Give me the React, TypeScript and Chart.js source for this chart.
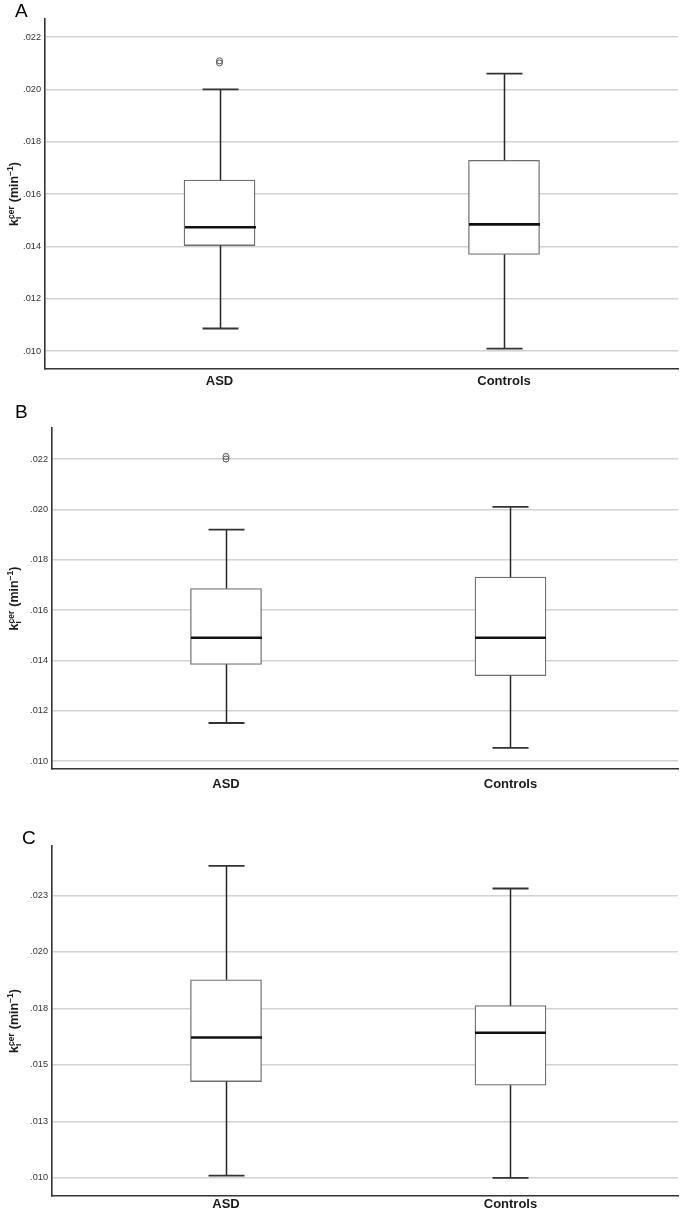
import React, { useEffect, useRef } from 'react';
import { Chart, registerables } from 'chart.js';

Chart.register(...registerables);

// ---------- DATA ----------
const categories = ['ASD', 'Controls'];

// Panel A
const aLow = [0.01086, 0.01009];
const aQ1 = [0.01403, 0.01369];
const aMedian = [0.01473, 0.01484];
const aQ3 = [0.01653, 0.01729];
const aHigh = [0.02, 0.0206];
const aOutliersASD = [0.02109, 0.02101];
const aOutliersControls: number[] = [];
const aTickValues = [0.01, 0.012, 0.014, 0.016, 0.018, 0.02, 0.022];
const aTickLabels = ['.010', '.012', '.014', '.016', '.018', '.020', '.022'];

// Panel B
const bLow = [0.01151, 0.01052];
const bQ1 = [0.01384, 0.01339];
const bMedian = [0.0149, 0.0149];
const bQ3 = [0.01685, 0.01731];
const bHigh = [0.01919, 0.0201];
const bOutliersASD = [0.0221, 0.022];
const bOutliersControls: number[] = [];
const bTickValues = [0.01, 0.012, 0.014, 0.016, 0.018, 0.02, 0.022];
const bTickLabels = ['.010', '.012', '.014', '.016', '.018', '.020', '.022'];

// Panel C
const cLow = [0.0101, 0.01];
const cQ1 = [0.01426, 0.0141];
const cMedian = [0.01621, 0.01642];
const cQ3 = [0.01876, 0.01762];
const cHigh = [0.0238, 0.0228];
const cOutliersASD: number[] = [];
const cOutliersControls: number[] = [];
const cTickValues = [0.01, 0.0125, 0.015, 0.0175, 0.02, 0.0225];
const cTickLabels = ['.010', '.013', '.015', '.018', '.020', '.023'];

// ---------- LAYOUT ----------
type PanelCfg = {
  letter: string;
  letterLeft: number;
  letterTop: number;
  top: number;
  height: number;
  padTop: number;
  xAxisH: number;
  axisLeft: number;
  xMin: number;
  xMax: number;
  yMin: number;
  yMax: number;
  labelPad: number;
  low: number[];
  q1: number[];
  median: number[];
  q3: number[];
  high: number[];
  outliers: number[][];
  tickValues: number[];
  tickLabels: string[];
};

const panels: PanelCfg[] = [
  {
    letter: 'A', letterLeft: 15, letterTop: 0.5,
    top: 0, height: 400, padTop: 19, xAxisH: 31, axisLeft: 45,
    xMin: 0.3866, xMax: 2.6116, yMin: 0.009312, yMax: 0.022688, labelPad: 5,
    low: aLow, q1: aQ1, median: aMedian, q3: aQ3, high: aHigh,
    outliers: [aOutliersASD, aOutliersControls],
    tickValues: aTickValues, tickLabels: aTickLabels,
  },
  {
    letter: 'B', letterLeft: 15, letterTop: 401.5,
    top: 400, height: 410, padTop: 28, xAxisH: 41, axisLeft: 52,
    xMin: 0.3884, xMax: 2.5888, yMin: 0.009682, yMax: 0.023232, labelPad: 8,
    low: bLow, q1: bQ1, median: bMedian, q3: bQ3, high: bHigh,
    outliers: [bOutliersASD, bOutliersControls],
    tickValues: bTickValues, tickLabels: bTickLabels,
  },
  {
    letter: 'C', letterLeft: 22, letterTop: 827.5,
    top: 810, height: 404, padTop: 36, xAxisH: 18, axisLeft: 52,
    xMin: 0.3884, xMax: 2.5888, yMin: 0.0092, yMax: 0.02468, labelPad: 1,
    low: cLow, q1: cQ1, median: cMedian, q3: cQ3, high: cHigh,
    outliers: [cOutliersASD, cOutliersControls],
    tickValues: cTickValues, tickLabels: cTickLabels,
  },
];

const FONT = '"Liberation Sans", Arial, Helvetica, sans-serif';
const WIDTH = 685;

function makeWhiskerPlugin(p: PanelCfg) {
  return {
    id: 'whiskers',
    afterDatasetsDraw(chart: any) {
      const { ctx } = chart;
      const xs = chart.scales.x;
      const ys = chart.scales.y;
      const capHalf = 18;
      const boxHalf = 35.5;
      ctx.save();
      categories.forEach((_, i) => {
        const cx = Math.round(xs.getPixelForValue(i + 1)) + 0.5;
        const yLow = ys.getPixelForValue(p.low[i]);
        const yQ1 = ys.getPixelForValue(p.q1[i]);
        const yMed = ys.getPixelForValue(p.median[i]);
        const yQ3 = ys.getPixelForValue(p.q3[i]);
        const yHigh = ys.getPixelForValue(p.high[i]);
        ctx.strokeStyle = '#262626';
        ctx.lineWidth = 1.5;
        ctx.beginPath();
        ctx.moveTo(cx, yQ3);
        ctx.lineTo(cx, yHigh);
        ctx.moveTo(cx, yQ1);
        ctx.lineTo(cx, yLow);
        ctx.stroke();
        ctx.strokeStyle = '#333333';
        ctx.lineWidth = 1.8;
        ctx.beginPath();
        ctx.moveTo(cx - capHalf, yHigh);
        ctx.lineTo(cx + capHalf, yHigh);
        ctx.moveTo(cx - capHalf, yLow);
        ctx.lineTo(cx + capHalf, yLow);
        ctx.stroke();
        ctx.strokeStyle = '#111111';
        ctx.lineWidth = 2.6;
        ctx.beginPath();
        ctx.moveTo(cx - boxHalf, yMed);
        ctx.lineTo(cx + boxHalf, yMed);
        ctx.stroke();
      });
      ctx.restore();
    },
  };
}

const yTitlePlugin = {
  id: 'ytitle',
  afterDraw(chart: any) {
    const { ctx, chartArea } = chart;
    const cy = (chartArea.top + chartArea.bottom) / 2;
    const bx = 18;
    const big = `bold 12.5px ${FONT}`;
    const small = `bold 8.5px ${FONT}`;
    ctx.save();
    ctx.fillStyle = '#1a1a1a';
    ctx.textBaseline = 'alphabetic';
    ctx.textAlign = 'left';
    ctx.font = big;
    const wK = ctx.measureText('k').width;
    const wMid = ctx.measureText(' (min').width;
    const wEnd = ctx.measureText(')').width;
    ctx.font = small;
    const wSub = ctx.measureText('i').width;
    const wSup = ctx.measureText('cer').width;
    const wExp = ctx.measureText('\u22121').width;
    const total = wK + Math.max(wSub, wSup) + 0.5 + wMid + wExp + wEnd;
    ctx.translate(bx, cy);
    ctx.rotate(-Math.PI / 2);
    let x = -total / 2;
    ctx.font = big;
    ctx.fillText('k', x, 0);
    x += wK;
    ctx.font = small;
    ctx.fillText('i', x, 3);
    ctx.fillText('cer', x, -4.5);
    x += Math.max(wSub, wSup) + 0.5;
    ctx.font = big;
    ctx.fillText(' (min', x, 0);
    x += wMid;
    ctx.font = small;
    ctx.fillText('\u22121', x, -5);
    x += wExp;
    ctx.font = big;
    ctx.fillText(')', x, 0);
    ctx.restore();
  },
};

function BoxPanel({ p }: { p: PanelCfg }) {
  const ref = useRef<HTMLCanvasElement | null>(null);
  useEffect(() => {
    if (!ref.current) return;
    const outlierPoints: { x: number; y: number }[] = [];
    p.outliers.forEach((list, i) => list.forEach((v) => outlierPoints.push({ x: i + 1, y: v })));
    const chart = new Chart(ref.current, {
      type: 'bar',
      data: {
        datasets: [
          {
            type: 'bar',
            data: categories.map((_, i) => ({ x: i + 1, y: [p.q1[i], p.q3[i]] })) as any,
            backgroundColor: '#ffffff',
            borderColor: '#6e6e6e',
            borderWidth: 1.3,
            borderSkipped: false,
            barThickness: 71,
          } as any,
          {
            type: 'scatter',
            data: outlierPoints as any,
            pointStyle: 'circle',
            pointRadius: 3,
            pointBackgroundColor: 'rgba(0,0,0,0)',
            pointBorderColor: '#555555',
            pointBorderWidth: 1,
          } as any,
        ],
      },
      options: {
        animation: false,
        responsive: false,
        devicePixelRatio: 1,
        layout: { padding: { top: p.padTop, right: WIDTH - 678, left: 0, bottom: 0 } },
        plugins: { legend: { display: false }, tooltip: { enabled: false } },
        scales: {
          x: {
            type: 'linear',
            offset: false,
            min: p.xMin,
            max: p.xMax,
            grid: { display: false, drawTicks: false, offset: false },
            border: { display: true, color: '#333333', width: 1.6 },
            afterBuildTicks: (scale: any) => {
              scale.ticks = categories.map((_, i) => ({ value: i + 1 }));
            },
            afterFit: (scale: any) => {
              scale.height = p.xAxisH;
            },
            ticks: {
              autoSkip: false,
              maxRotation: 0,
              padding: p.labelPad,
              color: '#1a1a1a',
              font: { family: FONT, size: 13, weight: 'bold' },
              callback: (v: any) => categories[Math.round(Number(v)) - 1] ?? '',
            },
          },
          y: {
            type: 'linear',
            min: p.yMin,
            max: p.yMax,
            grid: { color: '#d2d2d2', lineWidth: 1.5, drawTicks: false },
            border: { display: true, color: '#333333', width: 1.6 },
            afterBuildTicks: (scale: any) => {
              scale.ticks = p.tickValues.map((v) => ({ value: v }));
            },
            afterFit: (scale: any) => {
              scale.width = p.axisLeft;
            },
            ticks: {
              autoSkip: false,
              padding: 4,
              color: '#333333',
              font: { family: FONT, size: 9.2 },
              callback: (_v: any, i: number) => p.tickLabels[i],
            },
          },
        },
      } as any,
      plugins: [makeWhiskerPlugin(p), yTitlePlugin],
    });
    return () => chart.destroy();
  }, [p]);
  return (
    <canvas
      ref={ref}
      width={WIDTH}
      height={p.height}
      style={{ position: 'absolute', left: 0, top: p.top, width: WIDTH, height: p.height, display: 'block' }}
    />
  );
}

export default function App() {
  return (
    <div style={{ position: 'absolute', left: 0, top: 0, width: WIDTH, height: 1214, background: '#ffffff', overflow: 'hidden' }}>
      {panels.map((p) => (
        <BoxPanel key={p.letter} p={p} />
      ))}
      {panels.map((p) => (
        <div
          key={'l' + p.letter}
          style={{
            position: 'absolute',
            left: p.letterLeft,
            top: p.letterTop,
            fontFamily: FONT,
            fontSize: 19,
            lineHeight: 1,
            color: '#000000',
            zIndex: 2,
          }}
        >
          {p.letter}
        </div>
      ))}
    </div>
  );
}
